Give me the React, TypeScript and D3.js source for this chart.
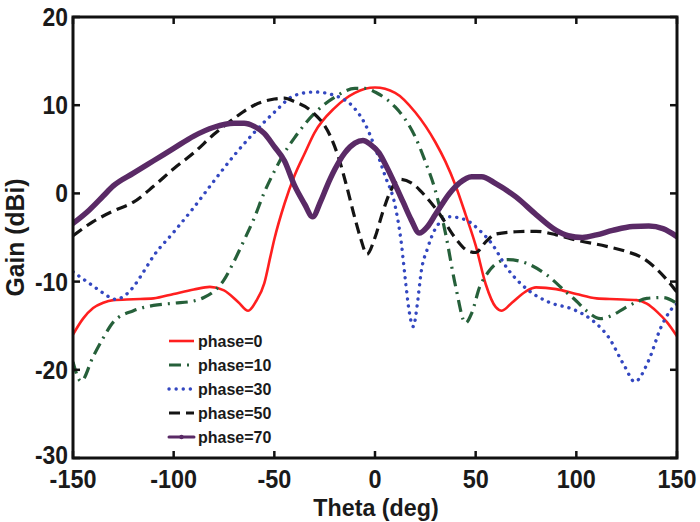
import React from 'react';
import * as d3 from 'd3';

// theta (deg) / gain (dBi)
const phase0: [number, number][] = [
  [-150, -16.0], [-145, -14.2], [-140, -13.0], [-135, -12.4], [-130, -12.1], [-120, -12.0],
  [-110, -11.9], [-100, -11.4], [-90, -10.9], [-82, -10.6], [-75, -11.0], [-68, -12.3],
  [-63, -13.3], [-59, -12.2], [-55, -10.2], [-52, -7.2], [-50, -5.2], [-45, -1.2], [-40, 2.0],
  [-35, 4.5], [-30, 6.9], [-20, 9.7], [-10, 11.4], [0, 12.0], [10, 11.4], [20, 9.2],
  [30, 5.8], [35, 3.6], [40, 0.9], [45, -2.4], [50, -5.9], [55, -10.3], [60, -12.9],
  [63, -13.3], [68, -12.4], [75, -11.1], [80, -10.65], [90, -10.85], [100, -11.4],
  [110, -11.9], [120, -12.0], [130, -12.1], [135, -12.5], [140, -13.4], [145, -14.6], [150, -16.2],
];

const phase10: [number, number][] = [
  [-150, -19.1], [-146, -21.3], [-140, -18.5], [-135, -16.4], [-130, -14.6], [-120, -13.3],
  [-110, -12.7], [-100, -12.45], [-90, -12.2], [-85, -11.8], [-80, -11.1], [-75, -9.8],
  [-70, -7.7], [-65, -5.3], [-60, -2.8], [-55, 0.1], [-50, 2.5], [-45, 4.6], [-40, 6.3],
  [-30, 9.1], [-20, 10.9], [-10, 11.9], [-5, 11.9], [0, 11.5], [5, 10.8], [10, 9.8],
  [15, 8.4], [20, 6.4], [25, 3.6], [30, 0.3], [35, -4.5], [40, -10.5], [45, -14.7],
  [48, -13.6], [52, -10.6], [56, -9.0], [60, -8.0], [66, -7.5], [75, -7.9], [85, -9.2],
  [95, -11.2], [100, -12.2], [105, -13.3], [112, -14.2], [118, -13.8], [124, -13.0],
  [130, -12.3], [135, -11.9], [143, -11.8], [150, -12.5],
];

const phase30: [number, number][] = [
  [-150, -8.9], [-140, -10.5], [-135, -11.3], [-129, -12.0], [-125, -11.7], [-120, -10.6],
  [-115, -8.9], [-110, -7.1], [-100, -4.4], [-90, -1.6], [-80, 1.4], [-70, 4.3], [-60, 6.9],
  [-50, 9.2], [-40, 11.1], [-30, 11.5], [-20, 11.1], [-10, 9.6], [-5, 7.9], [0, 5.2],
  [5, 2.0], [10, -1.4], [13, -5.5], [15, -9.6], [17, -13.4], [19, -15.1], [21, -12.6],
  [23, -8.8], [26, -6.3], [30, -4.0], [37, -2.65], [45, -3.0], [52, -4.2], [58, -5.7],
  [66, -8.6], [76, -10.95], [86, -12.3], [99, -13.2], [108, -14.4], [116, -16.3],
  [124, -19.6], [129, -21.35], [136, -18.9], [142, -15.2], [147, -13.2], [150, -12.5],
];

const phase50: [number, number][] = [
  [-150, -4.8], [-140, -3.2], [-130, -2.0], [-120, -1.0], [-110, 0.8], [-100, 2.8],
  [-90, 4.6], [-80, 6.7], [-70, 8.5], [-60, 10.0], [-50, 10.7], [-45, 10.8], [-40, 10.4],
  [-32, 9.4], [-22, 6.4], [-18, 4.0], [-14, 0.75], [-10, -2.8], [-7, -5.2], [-4, -6.9],
  [0, -5.0], [4, -2.0], [8, 0.4], [12, 1.6], [18, 1.2], [25, -0.3], [32, -2.3], [40, -5.1],
  [46, -6.5], [50, -6.7], [55, -5.5], [60, -4.6], [70, -4.35], [80, -4.3], [90, -4.7],
  [100, -5.3], [115, -6.0], [125, -6.6], [132, -7.2], [140, -8.6], [145, -9.8], [150, -11.2],
];

const phase70: [number, number][] = [
  [-150, -3.4], [-142, -1.9], [-135, -0.3], [-130, 0.85], [-120, 2.3], [-110, 3.7],
  [-100, 5.1], [-90, 6.5], [-80, 7.5], [-70, 7.95], [-65, 7.95], [-60, 7.6], [-55, 6.8],
  [-50, 5.3], [-45, 3.7], [-40, 0.9], [-35, -1.2], [-31, -2.65], [-27, -0.9], [-24, 0.75],
  [-20, 2.7], [-15, 4.6], [-10, 5.7], [-6, 6.0], [-2, 5.5], [2, 4.6], [6, 2.9], [10, 1.0],
  [14, -1.0], [18, -3.0], [22, -4.5], [26, -3.8], [30, -2.4], [37, 0.0], [42, 1.2],
  [48, 1.9], [53, 1.9], [60, 1.1], [70, -0.4], [80, -2.4], [90, -4.2], [96, -4.8],
  [103, -5.0], [110, -4.7], [118, -4.2], [128, -3.75], [136, -3.7], [143, -4.0], [150, -4.9],
];

const seriesNames = ['phase=0', 'phase=10', 'phase=30', 'phase=50', 'phase=70'];
const xTicks = [-150, -100, -50, 0, 50, 100, 150];
const yTicks = [-30, -20, -10, 0, 10, 20];

const W = 700;
const H = 522;
const left = 73;
const right = 677;
const top = 17;
const bottom = 458;
const font = 'Liberation Sans, Arial, Helvetica, sans-serif';

const styles = [
  { color: '#ff1f1f', width: 2.6, dash: undefined as string | undefined, cap: 'butt' },
  { color: '#26603a', width: 3.2, dash: '12 6 2 6', cap: 'butt' },
  { color: '#3347c0', width: 3.4, dash: '0.1 7', cap: 'round' },
  { color: '#141414', width: 3.2, dash: '11 6', cap: 'butt' },
  { color: '#5a2a66', width: 5.5, dash: undefined, cap: 'round' },
];

const App: React.FC = () => {
  const x = d3.scaleLinear().domain([-150, 150]).range([left, right]);
  const y = d3.scaleLinear().domain([-30, 20]).range([bottom, top]);

  const line = d3
    .line<[number, number]>()
    .x((d) => x(d[0]))
    .y((d) => y(d[1]))
    .curve(d3.curveMonotoneX);

  const data = [phase0, phase10, phase30, phase50, phase70];
  const legendX = 169;
  const legendY0 = 341;
  const legendStep = 24;

  return (
    <svg
      width={W}
      height={H}
      viewBox={`0 0 ${W} ${H}`}
      style={{ position: 'absolute', left: 0, top: 0, background: '#fff' }}
    >
      <defs>
        <clipPath id="plotClip">
          <rect x={left} y={top} width={right - left} height={bottom - top} />
        </clipPath>
      </defs>

      <g clipPath="url(#plotClip)">
        {data.map((d, i) => (
          <path
            key={seriesNames[i]}
            d={line(d) || ''}
            fill="none"
            stroke={styles[i].color}
            strokeWidth={styles[i].width}
            strokeDasharray={styles[i].dash}
            strokeLinecap={styles[i].cap as any}
            strokeLinejoin="round"
          />
        ))}
      </g>

      {/* ticks, inward on all four sides */}
      <g stroke="#111" strokeWidth={2.5}>
        {xTicks.map((t) => (
          <g key={'xt' + t}>
            <line x1={x(t)} x2={x(t)} y1={bottom} y2={bottom - 7} />
            <line x1={x(t)} x2={x(t)} y1={top} y2={top + 7} />
          </g>
        ))}
        {yTicks.map((t) => (
          <g key={'yt' + t}>
            <line x1={left} x2={left + 7} y1={y(t)} y2={y(t)} />
            <line x1={right} x2={right - 7} y1={y(t)} y2={y(t)} />
          </g>
        ))}
      </g>

      <rect
        x={left}
        y={top}
        width={right - left}
        height={bottom - top}
        fill="none"
        stroke="#111"
        strokeWidth={3}
      />

      <g fontFamily={font} fontWeight="bold" fill="#1a1a1a">
        {xTicks.map((t) => (
          <text
            key={'xl' + t}
            transform={`translate(${x(t)},${bottom + 30}) scale(0.9,1)`}
            textAnchor="middle"
            fontSize={26}
          >
            {t}
          </text>
        ))}
        {yTicks.map((t) => (
          <text
            key={'yl' + t}
            transform={`translate(${left - 5},${y(t) + (t === -30 ? 6 : 9)}) scale(0.88,1)`}
            textAnchor="end"
            fontSize={26}
          >
            {t}
          </text>
        ))}
        <text
          transform={`translate(${(left + right) / 2 + 1},${H - 6}) scale(0.97,1)`}
          textAnchor="middle"
          fontSize={24}
        >
          Theta (deg)
        </text>
        <text
          transform={`translate(24,${(top + bottom) / 2}) rotate(-90) scale(0.95,1)`}
          textAnchor="middle"
          fontSize={26}
        >
          Gain (dBi)
        </text>
      </g>

      {/* legend */}
      <g>
        {seriesNames.map((name, i) => {
          const ly = legendY0 + i * legendStep;
          return (
            <g key={'lg' + name}>
              <line
                x1={legendX}
                x2={legendX + 25}
                y1={ly}
                y2={ly}
                stroke={styles[i].color}
                strokeWidth={i === 4 ? 3 : styles[i].width}
                strokeDasharray={styles[i].dash}
                strokeLinecap={styles[i].cap as any}
              />
              {i === 4 && <circle cx={legendX + 12.5} cy={ly} r={2.2} fill={styles[i].color} />}
              <text
                x={legendX + 29}
                y={ly + 6}
                fontFamily={font}
                fontWeight="bold"
                fontSize={16}
                fill="#1a1a1a"
              >
                {name}
              </text>
            </g>
          );
        })}
      </g>
    </svg>
  );
};

export default App;
